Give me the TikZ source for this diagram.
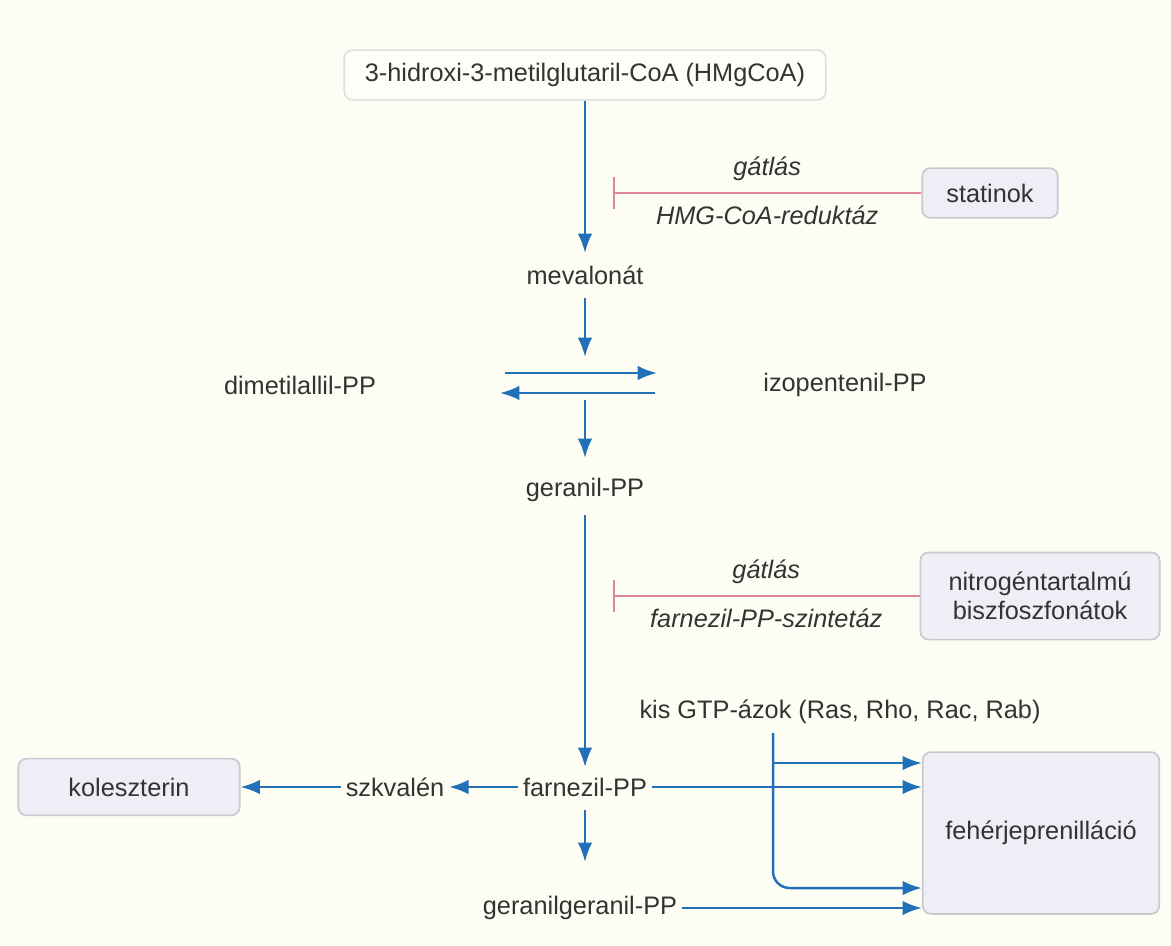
\documentclass[tikz,border=0pt]{standalone}
\usepackage{fontspec}
\setmainfont{Liberation Sans}
\usetikzlibrary{arrows.meta,positioning}
\definecolor{bgcream}{HTML}{FEFDF3}
\definecolor{flowblue}{HTML}{2270B8}
\definecolor{inhibred}{HTML}{E08595}
\definecolor{boxfill}{HTML}{EEEEF7}
\definecolor{boxline}{HTML}{C9C8CF}
\definecolor{txtgray}{HTML}{333333}
\begin{document}
\begin{tikzpicture}[x=0.0254cm,y=-0.0254cm,
    every node/.style={text=txtgray,font=\fontsize{18.3}{21}\selectfont},
    flow/.style={flowblue,line width=1.8pt,-{Latex[length=14pt,width=10.5pt]}},
    inhib/.style={inhibred,line width=1.3pt,-{Bar[width=23pt]}},
    agent/.style={draw=boxline,fill=boxfill,rounded corners=6pt,line width=1.2pt,align=center},
    lbl/.style={font=\fontsize{18.3}{21}\itshape}]
  \fill[bgcream] (0,0) rectangle (1171,945);
  \useasboundingbox (0,0) rectangle (1171,945);
        % fo ag
        \node[draw=boxline!60,fill=bgcream!60!white,rounded corners=6pt,line width=1.2pt,
          minimum width=348pt,inner sep=0pt,minimum height=36pt] (hmg) at (585,75)
          {3-hidroxi-3-metilglutaril-CoA (HMgCoA)};
        \node (meva) at (585,275) {mevalonát};
        \node (dmapp) at (300,385) {dimetilallil-PP};
        \node (ipp) at (845,385) {izopentenil-PP};
        \node (gpp) at (585,490) {geranil-PP};
        \node (fpp) at (585,787) {farnezil-PP};
        \node (szk) at (395,787) {szkvalén};
        \node[agent,minimum width=160pt,minimum height=41pt] (kol) at (129,787) {koleszterin};
        \node (ggpp) at (580,908) {geranilgeranil-PP};
        \node (gtp) at (840,712) {kis GTP-ázok (Ras, Rho, Rac, Rab)};
        \node[agent,minimum width=171pt,minimum height=117pt] (prot) at (1041,833) {fehérjeprenilláció};
        % gatlok
        \node[agent,minimum width=98pt,minimum height=36pt] (stat) at (990,193) {statinok};
        \node[agent,minimum width=173pt,minimum height=63pt] (biszf) at (1040,596)
          {nitrogéntartalmú\\biszfoszfonátok};
        \coordinate (bar1) at (613,193);
        \coordinate (bar2) at (613,596);
        \draw[inhib] (stat) -- (bar1) node[lbl,midway,above=5pt] {gátlás}
          node[lbl,midway,below=5pt] {HMG-CoA-reduktáz};
        \draw[inhib] (biszf) -- (bar2) node[lbl,midway,above=5pt] {gátlás}
          node[lbl,midway,below=5pt] {farnezil-PP-szintetáz};
        % fo ut
        \draw[flow] (hmg) -- (585,253);
        \coordinate (eqtop) at (585,357);
        \coordinate (eqbot) at (585,400);
        \draw[flow] (585,298) -- (eqtop);
        \draw[flow] (505,373) -- (657,373);
        \draw[flow] (655,393) -- (500,393);
        \draw[flow] (eqbot) -- (585,458);
        \draw[flow] (585,515) -- (585,767);
        \draw[flow] (fpp) -- (szk);
        \draw[flow] (szk) -- (kol);
        \draw[flow] (585,810) -- (585,862);
        % prenilacio
        \draw[flow] (fpp) -- (fpp -| prot.west);
        \draw[flow] (ggpp) -- (ggpp -| prot.west);
        \coordinate (gtpdown) at (773,733);
        \draw[flow] (gtpdown) |- (prot.west |- 0,763);
        \draw[flow,rounded corners=12pt] (gtpdown) |- (prot.west |- 0,888);
\end{tikzpicture}
\end{document}
